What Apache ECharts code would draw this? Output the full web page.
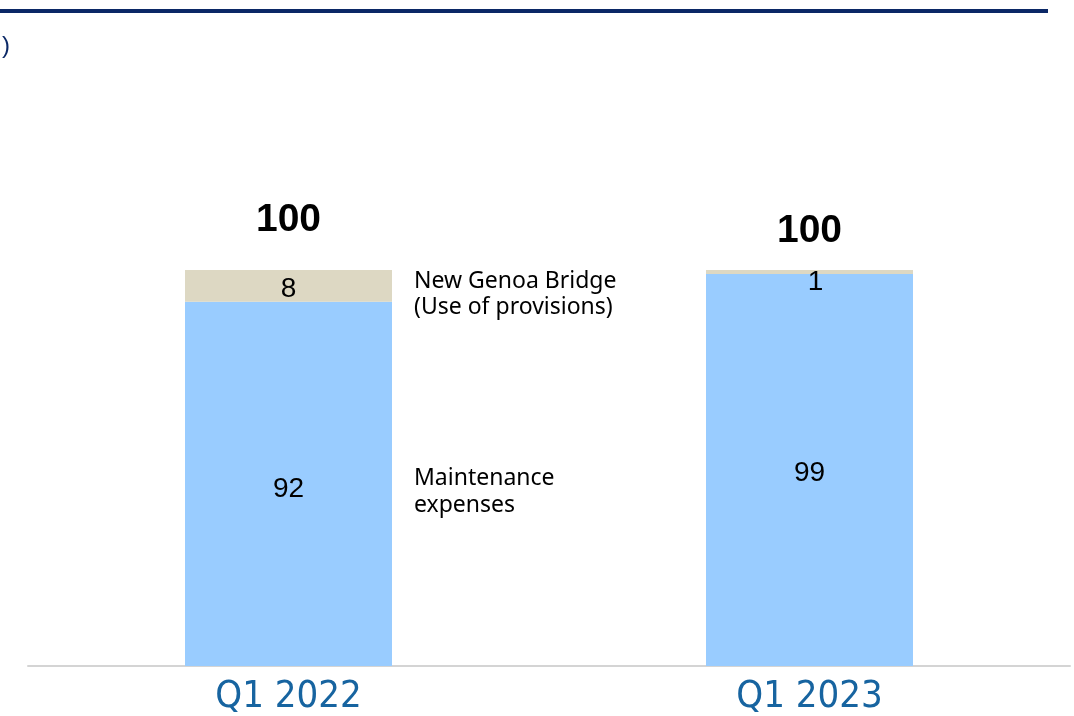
<!DOCTYPE html>
<html>
<head>
<meta charset="utf-8">
<script src="https://cdn.jsdelivr.net/npm/echarts@6/dist/echarts.min.js"></script>
<style>
  html, body { margin: 0; padding: 0; background: #fff; }
  #chart { width: 1074px; height: 716px; }
</style>
</head>
<body>
<div id="chart"></div>
<script>
// data
var categories = ['Q1 2022', 'Q1 2023'];
var maintenance = [92, 99];
var genoaBridge = [8, 1];
var totals = [100, 100];

var chart = echarts.init(document.getElementById('chart'));

var valueLabel = {
    show: true,
    position: 'inside',
    color: '#000',
    fontSize: 28,
    fontFamily: 'Liberation Sans, sans-serif'
};

var option = {
    animation: false,
    grid: {
        top: 270,
        left: 28,
        right: 4,
        bottom: 46
    },
    xAxis: {
        type: 'category',
        data: categories,
        axisLine: { lineStyle: { color: '#d4d4d4', width: 2 } },
        axisTick: { show: false },
        axisLabel: {
            color: '#1764a0',
            fontSize: 38,
            fontFamily: 'DejaVu Sans Condensed, Liberation Sans, sans-serif',
            margin: 12
        }
    },
    yAxis: {
        type: 'value',
        min: 0,
        max: 100,
        show: false
    },
    series: [
        {
            name: 'Maintenance expenses',
            type: 'bar',
            stack: 'total',
            barWidth: 207,
            data: [
                { value: maintenance[0], label: { offset: [0, 5] } },
                { value: maintenance[1], label: { offset: [0, 3] } }
            ],
            itemStyle: { color: '#99ccff' },
            label: valueLabel
        },
        {
            name: 'New Genoa Bridge',
            type: 'bar',
            stack: 'total',
            data: [
                { value: genoaBridge[0], label: { offset: [0, 3] } },
                { value: genoaBridge[1], label: { offset: [6, 10] } }
            ],
            itemStyle: { color: '#ddd8c3' },
            label: valueLabel
        },
        {
            name: 'Total',
            type: 'scatter',
            symbolSize: 0,
            itemStyle: { opacity: 1 },
            data: [
                { value: totals[0], label: { offset: [0, 0] } },
                { value: totals[1], label: { offset: [0, 11] } }
            ],
            label: {
                show: true,
                position: 'top',
                distance: 30,
                color: '#000',
                fontSize: 39,
                fontWeight: 'bold',
                fontFamily: 'Liberation Sans, sans-serif'
            }
        }
    ],
    graphic: [
        {
            type: 'rect',
            left: 0,
            top: 9,
            shape: { width: 1048, height: 4 },
            style: { fill: '#0b2866' }
        },
        {
            type: 'text',
            left: 2,
            top: 34,
            style: { text: ')', fill: '#0b2866', font: '24px Liberation Sans, sans-serif' }
        },
        {
            type: 'text',
            left: 414,
            top: 268,
            style: {
                text: 'New Genoa Bridge\n(Use of provisions)',
                fill: '#000',
                font: '23px Noto Sans, sans-serif',
                lineHeight: 26
            }
        },
        {
            type: 'text',
            left: 414,
            top: 465,
            style: {
                text: 'Maintenance\nexpenses',
                fill: '#000',
                font: '23px Noto Sans, sans-serif',
                lineHeight: 27
            }
        }
    ]
};

chart.setOption(option);
</script>
</body>
</html>
